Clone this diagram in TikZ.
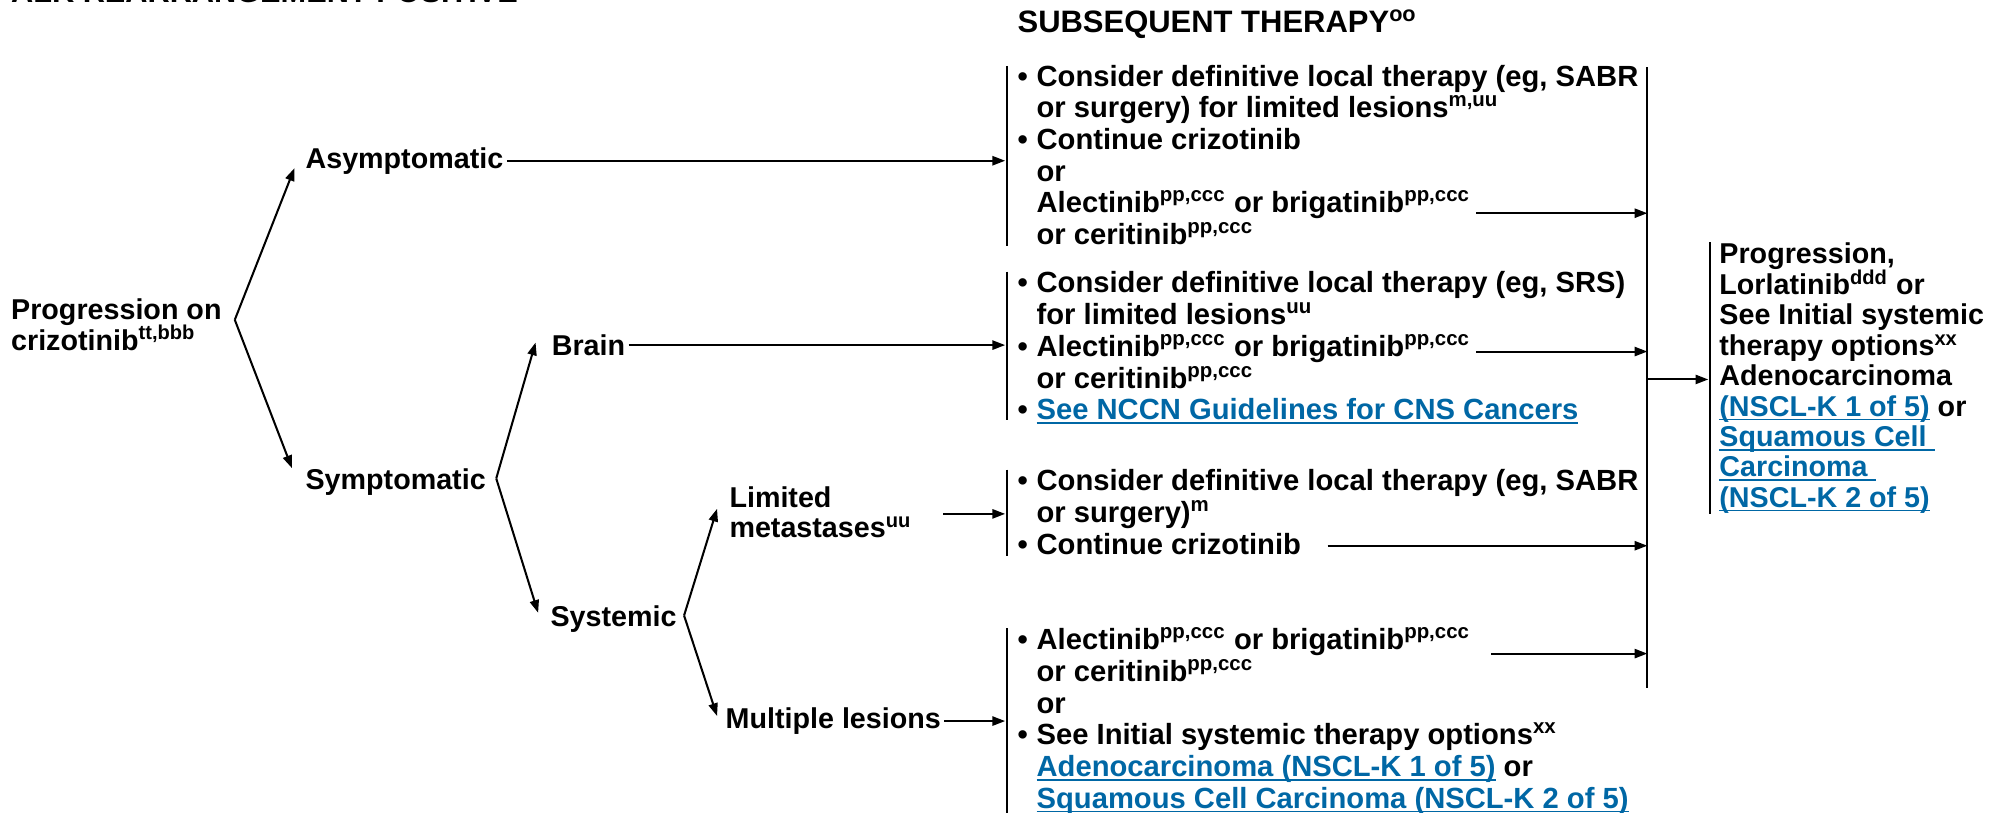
\documentclass[tikz,border=0pt]{standalone}
\usepackage{fontspec}
\setmainfont{Liberation Sans}
\usetikzlibrary{arrows.meta}
\definecolor{nccnblue}{RGB}{0,103,165}
\newcommand{\bodyfont}{\fontsize{11.5}{12.5}\selectfont\bfseries\lineskiplimit=-\maxdimen}
\newcommand{\sidefont}{\fontsize{11.3}{12}\selectfont\bfseries\lineskiplimit=-\maxdimen}
\newcommand{\fnote}[1]{\textsuperscript{#1}}
\newsavebox{\lnkbox}
\newcommand{\lnk}[1]{{\color{nccnblue}\sbox{\lnkbox}{#1}\rlap{\rule[-1.6pt]{\wd\lnkbox}{0.6pt}}\usebox{\lnkbox}}}
\newcommand{\bul}{\makebox[7.5pt][l]{\textbullet}}
\newcommand{\ind}{\hspace*{7.5pt}}
\newcommand{\fst}{\rule{0pt}{11pt}}

\begin{document}
\begin{tikzpicture}[x=0.5pt,y=-0.5pt,line width=0.8pt,
  every node/.style={inner sep=0pt,font=\bodyfont},
  lbl/.style={inner sep=1pt,anchor=base west,font=\sidefont},
  opts/.style={anchor=north west,align=left},
  arr/.style={-{Triangle[length=5pt,width=3.6pt]}}]
\useasboundingbox (0,0) rectangle (1568,640);

% headings
\node[anchor=base west,font=\fontsize{12.1}{14}\selectfont\bfseries] (hdr) at (8,2) {ALK REARRANGEMENT POSITIVE};
\node[anchor=base west,font=\fontsize{12.2}{14}\selectfont\bfseries] (subs) at (801,26) {SUBSEQUENT THERAPY\fnote{oo}};

% decision tree
\node[opts,font=\sidefont] (root) at (8,229) {\fst Progression on\\crizotinib\fnote{tt,bbb}};
\node[lbl] (asym) at (238,132.5) {Asymptomatic};
\node[lbl] (sym) at (238,386) {Symptomatic};
\node[lbl] (brain) at (432,280) {Brain};
\node[lbl] (syst) at (431,494) {Systemic};
\node[opts,inner sep=1pt,font=\sidefont] (lim) at (572,375) {\fst Limited\\metastases\fnote{uu}};
\node[lbl] (mult) at (569,574) {Multiple lesions};

\coordinate (v0) at (185,252);
\coordinate (v1) at (391,377);
\coordinate (v2) at (539,485);
\coordinate (inbar) at (792,0);

\draw[arr] (v0) -- ([xshift=-3pt]asym.base west);
\draw[arr] (v0) -- ([shift={(-8,2)}]sym.north west);
\draw[arr] (v1) -- ([shift={(-10,-2)}]brain.west);
\draw[arr] (v1) -- ([shift={(-7,8)}]syst.north west);
\draw[arr] (v2) -- ([shift={(-7,0)}]lim.west);
\draw[arr] (v2) -- ([shift={(-4,-4)}]mult.west);

\coordinate (limo) at ([shift={(22,4)}]lim.east);
\draw[arr] (asym.east) -- (asym.east -| inbar);
\draw[arr] (brain.east) -- (brain.east -| inbar);
\draw[arr] (limo) -- (limo -| inbar);
\draw[arr] (mult.east) -- (mult.east -| inbar);

% subsequent therapy
\node[opts] (b1) at (801,45) {\fst\bul Consider definitive local therapy (eg, SABR\\
  \ind or surgery) for limited lesions\fnote{m,uu}\\
  \bul Continue crizotinib\\
  \ind or\\
  \ind Alectinib\fnote{pp,ccc} or brigatinib\fnote{pp,ccc}\\
  \ind or ceritinib\fnote{pp,ccc}};
\node[opts] (b2) at (801,208) {\fst\bul Consider definitive local therapy (eg, SRS)\\
  \ind for limited lesions\fnote{uu}\\
  \bul Alectinib\fnote{pp,ccc} or brigatinib\fnote{pp,ccc}\\
  \ind or ceritinib\fnote{pp,ccc}\\
  \bul\lnk{See NCCN Guidelines for CNS Cancers}};
\node[opts] (b3) at (801,364) {\fst\bul Consider definitive local therapy (eg, SABR\\
  \ind or surgery)\fnote{m}\\
  \bul Continue crizotinib};
\node[opts] (b4) at (801,489) {\fst\bul Alectinib\fnote{pp,ccc} or brigatinib\fnote{pp,ccc}\\
  \ind or ceritinib\fnote{pp,ccc}\\
  \ind or\\
  \bul See Initial systemic therapy options\fnote{xx}\\
  \ind\lnk{Adenocarcinoma (NSCL-K 1 of 5)} or\\
  \ind\lnk{Squamous Cell Carcinoma (NSCL-K 2 of 5)}};

\draw ([shift={(-7.5,7)}]b1.north west) -- ([shift={(-7.5,0)}]b1.south west);
\draw ([shift={(-7.5,6)}]b2.north west) -- ([shift={(-7.5,-4)}]b2.south west);
\draw ([shift={(-7.5,6)}]b3.north west) -- ([shift={(-7.5,0)}]b3.south west);
\draw ([shift={(-7.5,6)}]b4.north west) -- ([shift={(-7.5,0)}]b4.south west);

\coordinate (rtop) at (1298,53);
\coordinate (rbot) at (1298,542);
\draw (rtop) -- (rbot);

\coordinate (o1) at (1163,168);
\coordinate (o2) at (1163,277);
\coordinate (o3) at (1046,430);
\coordinate (o4) at (1175,515);
\draw[arr] (o1) -- (o1 -| rtop);
\draw[arr] (o2) -- (o2 -| rtop);
\draw[arr] (o3) -- (o3 -| rtop);
\draw[arr] (o4) -- (o4 -| rtop);

% next step
\node[opts,font=\sidefont] (rb) at (1354,185) {\fst Progression,\\
  Lorlatinib\fnote{ddd} or\\
  See Initial systemic\\
  therapy options\fnote{xx}\\
  Adenocarcinoma\\
  \lnk{(NSCL-K 1 of 5)} or\\
  \lnk{Squamous Cell~}\\
  \lnk{Carcinoma~}\\
  \lnk{(NSCL-K 2 of 5)}};
\draw ([shift={(-7,6)}]rb.north west) -- ([shift={(-7,0)}]rb.south west);
\coordinate (ri) at (1346,299);
\draw[arr] (ri -| rtop) -- (ri);
\end{tikzpicture}
\end{document}
